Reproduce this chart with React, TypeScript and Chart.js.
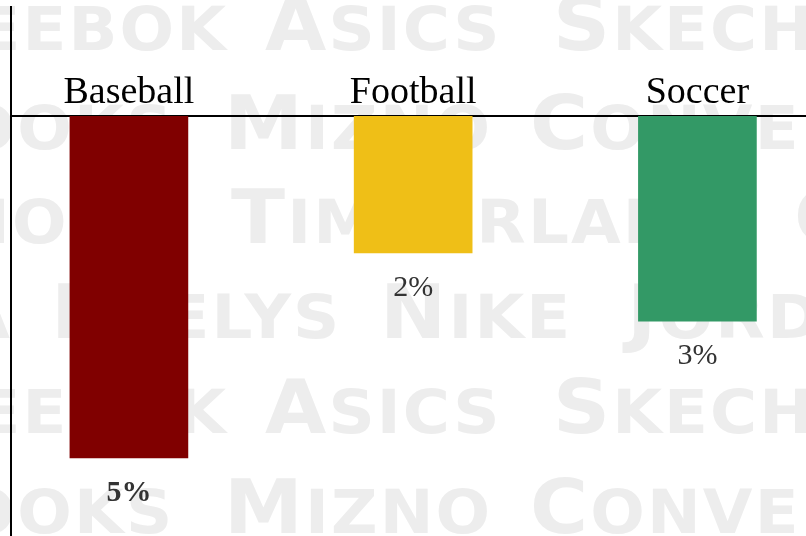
import React, { useEffect, useRef } from "react";
import { Chart, registerables } from "chart.js";

Chart.register(...registerables);

// ---- chart data ----
const categories = ["Baseball", "Football", "Soccer"];
const shares = [5, 2, 3];
const shareLabels = ["5%", "2%", "3%"];
const shareLabelBold = [true, false, false];
const barColors = ["#800000", "#EFBF17", "#339966"];

// ---- background watermark words (decoration) ----
const wmRowA = [
  { t: "Reebok", right: 226 },
  { t: "Asics", left: 265 },
  { t: "Skechers", left: 553 },
];
const wmRowB = [
  { t: "Brooks", right: 172 },
  { t: "Mizno", left: 224 },
  { t: "Converse", left: 530 },
];
const wmRowC = [
  { t: "mo", right: 67 },
  { t: "Timberland", left: 231 },
  { t: "Crocs", left: 794 },
];
const wmRowD = [
  { t: "Puma", right: 10 },
  { t: "Heelys", left: 51 },
  { t: "Nike", left: 380 },
  { t: "Jordan", left: 627 },
];
const wmRows = [
  { baseline: 50, words: wmRowA },
  { baseline: 149, words: wmRowB },
  { baseline: 243, words: wmRowC },
  { baseline: 338, words: wmRowD },
  { baseline: 433, words: wmRowA },
  { baseline: 533, words: wmRowB },
];

const W = 806;
const H = 536;
const BIG = 74;
const SMALL = 60;
const LS = 2;
const STRETCH = 1.07;

function WmWord(props: { t: string; left?: number; right?: number; baseline: number }) {
  const { t, left, right, baseline } = props;
  const style: any = {
    position: "absolute",
    top: baseline - 0.846 * BIG,
    whiteSpace: "nowrap",
    lineHeight: 1,
    fontSize: BIG,
    letterSpacing: LS,
    transform: `scaleX(${STRETCH})`,
  };
  if (right !== undefined) {
    style.right = W - right - LS;
    style.transformOrigin = "right center";
  } else {
    style.left = left;
    style.transformOrigin = "left center";
  }
  return (
    <div style={style}>
      {t.split("").map((c, i) => (
        <span key={i} style={{ fontSize: c === c.toUpperCase() ? BIG : SMALL }}>
          {c.toUpperCase()}
        </span>
      ))}
    </div>
  );
}

const valueLabelPlugin = {
  id: "valueLabels",
  afterDatasetsDraw(chart: any) {
    const ctx = chart.ctx;
    const meta = chart.getDatasetMeta(0);
    meta.data.forEach((bar: any, i: number) => {
      ctx.save();
      ctx.font = `${shareLabelBold[i] ? "bold " : ""}30px "Liberation Serif", serif`;
      ctx.fillStyle = "#333333";
      ctx.textAlign = "center";
      ctx.textBaseline = "alphabetic";
      ctx.fillText(shareLabels[i], bar.x, bar.y + 43);
      ctx.restore();
    });
  },
};

const leftLinePlugin = {
  id: "leftLine",
  afterDraw(chart: any) {
    const { ctx, chartArea } = chart;
    ctx.save();
    ctx.strokeStyle = "#000";
    ctx.lineWidth = 2;
    ctx.beginPath();
    ctx.moveTo(chartArea.left, 6);
    ctx.lineTo(chartArea.left, chart.height);
    ctx.stroke();
    ctx.restore();
  },
};

export default function App() {
  const ref = useRef<HTMLCanvasElement>(null);

  useEffect(() => {
    const chart = new Chart(ref.current as HTMLCanvasElement, {
      type: "bar",
      data: {
        datasets: [
          {
            data: shares.map((v, i) => ({ x: i, y: v })) as any,
            backgroundColor: barColors,
            borderWidth: 0,
            barThickness: 118,
          },
        ],
      },
      options: {
        responsive: false,
        animation: false,
        layout: { padding: { left: 11, right: 0, top: 0, bottom: 0 } },
        plugins: {
          legend: { display: false },
          tooltip: { enabled: false },
          title: { display: false },
        },
        scales: {
          x: {
            type: "linear",
            position: "top",
            min: -0.4148,
            max: 2.382,
            offset: false,
            z: 1,
            grid: { display: false, drawTicks: false, offset: false },
            border: { display: true, color: "#000", width: 2 },
            afterBuildTicks: (scale: any) => {
              scale.ticks = categories.map((_, i) => ({ value: i }));
            },
            afterFit: (scale: any) => {
              scale.height = 116;
            },
            ticks: {
              autoSkip: false,
              maxRotation: 0,
              padding: 0,
              color: "#000",
              font: { family: '"Liberation Serif", serif', size: 38 },
              callback: (v: any) => categories[Math.round(Number(v))] ?? "",
            },
          },
          y: {
            display: false,
            reverse: true,
            min: 0,
            max: 6.14,
          },
        },
      },
      plugins: [valueLabelPlugin, leftLinePlugin],
    });
    return () => chart.destroy();
  }, []);

  return (
    <div
      style={{
        position: "fixed",
        left: 0,
        top: 0,
        width: W,
        height: H,
        overflow: "hidden",
        background: "#fff",
      }}
    >
      <div
        aria-hidden="true"
        style={{
          position: "absolute",
          inset: 0,
          fontFamily: '"DejaVu Sans", sans-serif',
          fontWeight: "bold",
          color: "#ededed",
          filter: "blur(0.5px)",
        }}
      >
        {wmRows.map((row, r) =>
          row.words.map((w, k) => (
            <WmWord key={`${r}-${k}`} t={w.t} left={(w as any).left} right={(w as any).right} baseline={row.baseline} />
          ))
        )}
      </div>
      <div style={{ position: "absolute", left: 0, top: 0 }}>
        <canvas ref={ref} width={W} height={H} style={{ display: "block" }} />
      </div>
    </div>
  );
}
